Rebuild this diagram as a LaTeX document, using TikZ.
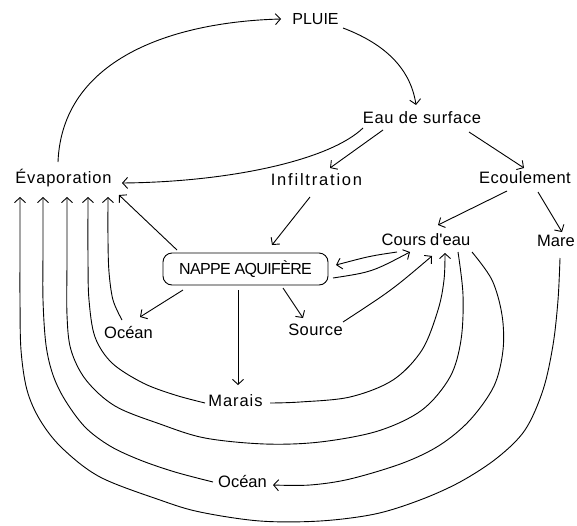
\documentclass[tikz,border=0pt]{standalone}
\usepackage{fontspec}
\setmainfont{Liberation Sans}
\usetikzlibrary{arrows.meta}
\begin{document}
\begin{tikzpicture}[x=1pt,y=-1pt,line width=0.9pt,
  lbl/.style={anchor=base, inner sep=1pt, font=\fontsize{16.5}{18}\selectfont, text height=12pt, text depth=3.6pt},
  boxnode/.style={draw, rounded corners=9pt, minimum width=165pt, minimum height=32pt, inner sep=2pt, font=\fontsize{16}{18}\selectfont},
  arr/.style={-{Straight Barb[length=5pt,width=11pt]}},
  ring/.style={smooth, tension=0.55}]
\useasboundingbox (0,0) rectangle (577,525);
% nodes
\node[lbl, font=\fontsize{16}{18}\selectfont] (pluie) at (315.5,24) {PLUIE};
\node[lbl] (eau) at (422,123) {\addfontfeatures{LetterSpace=4}Eau de surface};
\node[lbl] (evap) at (63.5,183) {\addfontfeatures{LetterSpace=5}Évaporation};
\node[lbl] (infil) at (316.5,185) {\addfontfeatures{LetterSpace=10.9}Infiltration};
\node[lbl] (ecoul) at (525,183) {\addfontfeatures{LetterSpace=3}Ecoulement};
\node[lbl] (cours) at (426,245) {\addfontfeatures{LetterSpace=1}Cours\hspace{4pt}d\textquotesingle eau};
\node[lbl] (mare) at (556,246) {Mare};
\node[boxnode] (nappe) at (245.5,269) {\addfontfeatures{LetterSpace=-4}NAPPE AQUIFÈRE};
\node[lbl] (ocs) at (128.5,338) {Océan};
\node[lbl] (source) at (315.5,335) {\addfontfeatures{LetterSpace=2.7}Source};
\node[lbl] (marais) at (235.5,406) {\addfontfeatures{LetterSpace=5.5}Marais};
\node[lbl] (oceanb) at (242.5,487) {Océan};
% connection points
\coordinate (pluie-w) at (281,19);
\coordinate (pluie-e) at (343,28);
\coordinate (eau-n) at (416,105);
\coordinate (eau-sw) at (363,128);
\coordinate (eau-s) at (383,130);
\coordinate (eau-se) at (469,132);
\coordinate (evap-n) at (58,162);
\coordinate (evap-e) at (122,183);
\coordinate (evap-a) at (119,195);
\coordinate (e1) at (20,197);
\coordinate (e2) at (43,197);
\coordinate (e3) at (67,197);
\coordinate (e4) at (88,197);
\coordinate (e5) at (108,197);
\coordinate (infil-n) at (330,168);
\coordinate (infil-s) at (310,197);
\coordinate (ecoul-n) at (524,168);
\coordinate (ecoul-sw) at (507,191);
\coordinate (ecoul-se) at (538,192);
\coordinate (cours-n) at (438,225);
\coordinate (mare-n) at (562,232);
\coordinate (mare-s) at (560,258);
\coordinate (nappe-n) at (272,245);
\coordinate (nappe-nw) at (177,250);
\coordinate (nappe-sw) at (183,290);
\coordinate (nappe-s) at (283,288);
\coordinate (nappe-b) at (238,290);
\coordinate (nappe-e1) at (336,265);
\coordinate (nappe-e2) at (333,278);
\coordinate (ocs-n) at (140,317);
\coordinate (ocs-nw) at (122,320);
\coordinate (source-n) at (303,318);
\coordinate (source-e) at (343,322);
\coordinate (marais-n) at (238,385);
\coordinate (marais-e) at (270,403);
\coordinate (marais-w) at (205,403);
\coordinate (cours-a) at (397,252);
\coordinate (cours-b) at (410,252);
\coordinate (cours-c) at (432,256);
\coordinate (cours-d) at (445,253);
\coordinate (cours-e) at (458,252);
\coordinate (cours-f) at (472,252);
\coordinate (oceanb-e) at (273,485);
\coordinate (oceanb-w) at (213,482);
% upper connectors
\draw[arr] (evap-n) .. controls (62,60) and (170,22) .. (pluie-w);
\draw[arr] (pluie-e) .. controls (380,42) and (410,65) .. (eau-n);
\draw[arr] (eau-sw) .. controls (330,160) and (230,182) .. (evap-e);
\draw[arr] (eau-s) -- (infil-n);
\draw[arr] (eau-se) -- (ecoul-n);
\draw[arr] (ecoul-sw) -- (cours-n);
\draw[arr] (ecoul-se) -- (mare-n);
\draw[arr] (infil-s) -- (nappe-n);
\draw[arr] (nappe-nw) -- (evap-a);
\draw[arr] (nappe-sw) -- (ocs-n);
\draw[arr] (nappe-s) -- (source-n);
\draw[arr] (nappe-b) -- (marais-n);
\draw[arr] (cours-a) .. controls (370,256) .. (nappe-e1);
\draw[arr] (nappe-e2) .. controls (372,272) .. (cours-b);
\draw[arr] (source-e) .. controls (392,290) .. (cours-c);
% rings
\draw[arr] plot[ring] coordinates {(marais-e) (300,402) (350,397) (393,380) (422,350) (438,310) (444,280) (cours-d)};
\draw[arr] plot[ring] coordinates {(marais-w) (175,395) (143,383) (112,363) (95,337) (89,300) (88,260) (e4)};
\draw[arr] plot[ring] coordinates {(cours-e) (463,295) (461,340) (450,377) (422,410) (378,431) (320,442) (265,444) (205,438) (160,424) (115,406) (86,380) (71,350) (67,315) (67,260) (e3)};
\draw[arr] plot[ring] coordinates {(cours-f) (492,280) (502,315) (503,350) (494,386) (470,420) (440,445) (403,463) (350,479) (310,485) (oceanb-e)};
\draw[arr] plot[ring] coordinates {(oceanb-w) (175,472) (140,460) (110,446) (85,427) (65,400) (53,375) (46,345) (43,300) (43,250) (e2)};
\draw[arr] plot[ring] coordinates {(mare-s) (558,300) (553,345) (543,390) (525,430) (497,458) (460,482) (420,500) (375,514) (320,521) (260,521) (200,512) (160,500) (100,477) (62,448) (40,420) (27,390) (21,350) (20,300) (20,250) (e1)};
\draw[arr] plot[ring] coordinates {(ocs-nw) (113,300) (109,272) (108,240) (e5)};
\end{tikzpicture}
\end{document}
